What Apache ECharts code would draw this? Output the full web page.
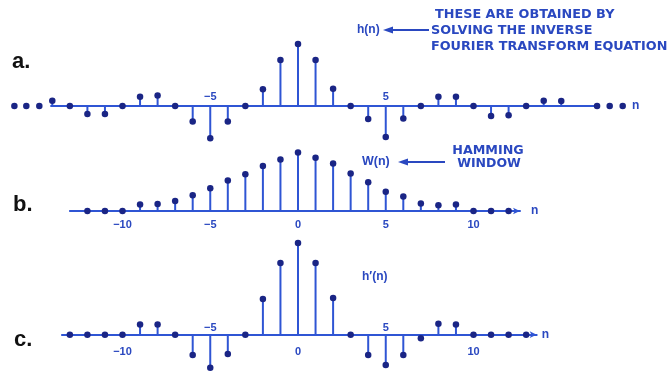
<!DOCTYPE html>
<html>
<head>
<meta charset="utf-8">
<script src="https://cdn.jsdelivr.net/npm/echarts@6/dist/echarts.min.js"></script>
<style>
  html, body { margin: 0; padding: 0; background: #fff; }
  #chart { width: 670px; height: 376px; }
</style>
</head>
<body>
<div id="chart"></div>
<script>
// a. ideal impulse response h(n)
const nA = [-14,-13,-12,-11,-10,-9,-8,-7,-6,-5,-4,-3,-2,-1,0,1,2,3,4,5,6,7,8,9,10,11,12,13,14,15];
const hA = [0.085,0,-0.13,-0.13,0,0.15,0.17,0,-0.25,-0.52,-0.25,0,0.27,0.74,1.0,0.74,0.28,0,-0.21,-0.50,-0.20,0,0.15,0.15,0,-0.16,-0.15,0,0.085,0.08];
// continuation dots on both ends of h(n)
const ellipsisA = [-16.16,-15.48,-14.74,17.04,17.76,18.5];

// b. Hamming window W(n)
const nB = [-12,-11,-10,-9,-8,-7,-6,-5,-4,-3,-2,-1,0,1,2,3,4,5,6,7,8,9,10,11,12];
const wB = [0,0,0,0.11,0.12,0.17,0.27,0.39,0.52,0.63,0.77,0.88,1.0,0.91,0.81,0.64,0.49,0.33,0.25,0.13,0.10,0.11,0,0,0];

// c. windowed response h'(n)
const nC = [-13,-12,-11,-10,-9,-8,-7,-6,-5,-4,-3,-2,-1,0,1,2,3,4,5,6,7,8,9,10,11,12,13];
const hC = [0,0,0,0,0.11,0.11,0,-0.22,-0.36,-0.21,0,0.39,0.78,1.0,0.78,0.40,0,-0.22,-0.33,-0.22,-0.04,0.12,0.11,0,0,0,0];

// tick labels: those printed under the baseline and those printed over it
const ticksAAbove = [-5, 5];
const ticksBBelow = [-10, -5, 0, 5, 10];
const ticksCBelow = [-10, 0, 10];
const ticksCAbove = [-5, 5];

const STEM = '#2f55d4';
const DOT = '#1a2585';
const TEXT = '#2a48c0';
const FONT = '"Liberation Sans", Arial, sans-serif';
const HEAD_FONT = '"DejaVu Sans", "Liberation Sans", sans-serif';

// shared horizontal scale: pixel of n = 0 and pixels per sample
const X0 = 298, DX = 17.55;

function zip(xs, ys) { return xs.map((x, i) => [x, ys[i]]); }
function fmt(v) { return v < 0 ? '\u2212' + (-v) : String(v); }

// panel frame: x range of the axis line, baseline pixel, y range and px per unit
const panels = [
  { x: [-14.07, 17.04], base: 106, y: [-0.7, 1.1], scale: 62,
    below: [], above: ticksAAbove, mBelow: 8, mAbove: 3, name: 'n', nameGap: 35, arrow: false },
  { x: [-13, 12.65], base: 211, y: [-0.2, 1.1], scale: 58.5,
    below: ticksBBelow, above: [], mBelow: 7.5, mAbove: 5, name: 'n', nameGap: 11, arrow: true },
  { x: [-13.45, 13.6], base: 339, y: [-0.45, 1.1], scale: 95.7,
    below: ticksCBelow, above: ticksCAbove, mBelow: 7, mAbove: 5, name: 'n', nameGap: 5, arrow: true }
];

const grids = [], xAxes = [], yAxes = [];

panels.forEach((p, i) => {
  const left = X0 + p.x[0] * DX, width = (p.x[1] - p.x[0]) * DX;
  // plotting frame
  grids.push({ left: left, width: width, top: p.base - p.y[1] * p.scale, height: (p.y[1] - p.y[0]) * p.scale });
  xAxes.push({
    type: 'value', gridIndex: i, min: p.x[0], max: p.x[1],
    splitLine: { show: false }, axisTick: { show: false }, axisLabel: { show: false },
    axisLine: { show: true, onZero: true,
      symbol: p.arrow ? ['none', 'arrow'] : ['none', 'none'], symbolSize: [5, 7],
      lineStyle: { color: STEM, width: 2 } },
    name: p.name, nameGap: p.nameGap,
    nameTextStyle: { color: TEXT, fontFamily: FONT, fontSize: 12, fontWeight: 'bold' }
  });
  yAxes.push({ type: 'value', gridIndex: i, min: p.y[0], max: p.y[1], show: false });
});

// thin strip frames sitting on each baseline, carrying the tick labels
const labelStyle = { color: TEXT, fontFamily: FONT, fontSize: 11, fontWeight: 'bold', formatter: fmt };
panels.forEach((p, i) => {
  const gi = grids.length;
  grids.push({ left: X0 + p.x[0] * DX, width: (p.x[1] - p.x[0]) * DX, top: p.base - 0.5, height: 1 });
  yAxes.push({ type: 'value', gridIndex: gi, min: 0, max: 1, show: false });
  [['bottom', p.below, p.mBelow], ['top', p.above, p.mAbove]].forEach(([pos, vals, m]) => {
    xAxes.push({
      type: 'value', gridIndex: gi, position: pos, min: p.x[0], max: p.x[1],
      show: vals.length > 0,
      splitLine: { show: false }, axisTick: { show: false }, axisLine: { show: false, onZero: false },
      axisLabel: Object.assign({}, labelStyle, { margin: m, customValues: vals })
    });
  });
});

function stems(idx, data) {
  return [
    { type: 'bar', xAxisIndex: idx, yAxisIndex: idx, data: data, barWidth: 2,
      itemStyle: { color: STEM }, silent: true, z: 2 },
    { type: 'scatter', xAxisIndex: idx, yAxisIndex: idx, data: data, symbolSize: 6.5,
      itemStyle: { color: DOT, opacity: 1 }, clip: false, silent: true, z: 3 }
  ];
}

const series = [].concat(
  stems(0, zip(nA, hA)),
  [{ type: 'scatter', xAxisIndex: 0, yAxisIndex: 0, data: ellipsisA.map(v => [v, 0]),
     symbolSize: 6.5, itemStyle: { color: DOT, opacity: 1 }, clip: false, silent: true, z: 3 }],
  stems(1, zip(nB, wB)),
  stems(2, zip(nC, hC))
);

function txt(x, y, s, size, color, align, family) {
  return { type: 'text', x: x, y: y, silent: true,
    style: { text: s, font: 'bold ' + size + 'px ' + (family || FONT), fill: color,
             textAlign: align || 'left', textVerticalAlign: 'middle' } };
}
function arrow(tipX, tailX, y) {
  return { type: 'group', silent: true, children: [
    { type: 'line', shape: { x1: tipX + 6, y1: y, x2: tailX, y2: y }, style: { stroke: TEXT, lineWidth: 2 } },
    { type: 'polygon', shape: { points: [[tipX, y], [tipX + 10, y - 3.5], [tipX + 10, y + 3.5]] }, style: { fill: TEXT } }
  ] };
}

const graphics = [
  txt(12, 62, 'a.', 22, '#111'),
  txt(13, 205, 'b.', 22, '#111'),
  txt(14, 340, 'c.', 22, '#111'),
  txt(357, 30, 'h(n)', 12, TEXT),
  arrow(383, 429, 30),
  txt(435, 15, 'THESE ARE OBTAINED BY', 12.8, TEXT, 'left', HEAD_FONT),
  txt(431, 31, 'SOLVING THE INVERSE', 12.8, TEXT, 'left', HEAD_FONT),
  txt(431, 46.5, 'FOURIER TRANSFORM EQUATION', 12.8, TEXT, 'left', HEAD_FONT),
  txt(362, 162, 'W(n)', 12.5, TEXT),
  arrow(398, 445, 162),
  txt(488, 151, 'HAMMING', 12.7, TEXT, 'center', HEAD_FONT),
  txt(489, 163.5, 'WINDOW', 12.5, TEXT, 'center', HEAD_FONT),
  txt(362, 277, 'h\u2032(n)', 12, TEXT)
];

const chart = echarts.init(document.getElementById('chart'), null, { renderer: 'canvas' });
chart.setOption({
  animation: false,
  backgroundColor: '#ffffff',
  grid: grids,
  xAxis: xAxes,
  yAxis: yAxes,
  series: series,
  graphic: graphics
});
</script>
</body>
</html>
